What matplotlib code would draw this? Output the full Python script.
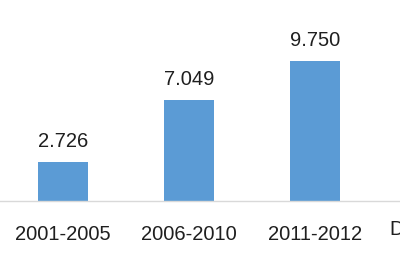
import matplotlib
matplotlib.use("Agg")
import matplotlib.pyplot as plt

# periodos y valores
periodos = ["2001-2005", "2006-2010", "2011-2012"]
valores = [2.726, 7.049, 9.750]
etiquetas = ["2.726", "7.049", "9.750"]
extra = "D"

plt.rcParams["font.family"] = ["Liberation Sans", "DejaVu Sans"]

fig = plt.figure(figsize=(4.0, 2.66), dpi=100)
ax = fig.add_axes([0, 65 / 266, 1, 201 / 266])

x = list(range(len(periodos)))
ax.bar(x, valores, width=0.4, color="#5B9BD5")

for xi, v, t in zip(x, valores, etiquetas):
    ax.annotate(t, (xi, v), xytext=(0, 8), textcoords="offset points",
                ha="center", va="bottom", fontsize=14.5, color="#1f1f1f")

ax.set_xlim(-0.5, 2.675)
ax.set_ylim(0, 14.0)
ax.set_xticks(x)
ax.set_xticklabels(periodos, fontsize=14.5, color="#1f1f1f")
ax.tick_params(axis="x", length=0, pad=17)
ax.set_yticks([])
for s in ["top", "right", "left"]:
    ax.spines[s].set_visible(False)
ax.spines["bottom"].set_color("#d9d9d9")
ax.spines["bottom"].set_linewidth(1)

# texto cortado en el borde derecho, como en el original
ax.text(2.59, -0.14, extra, transform=ax.get_xaxis_transform(),
        ha="left", va="center", fontsize=14.5, color="#1f1f1f", clip_on=False)

fig.savefig("out.png", dpi=100)
